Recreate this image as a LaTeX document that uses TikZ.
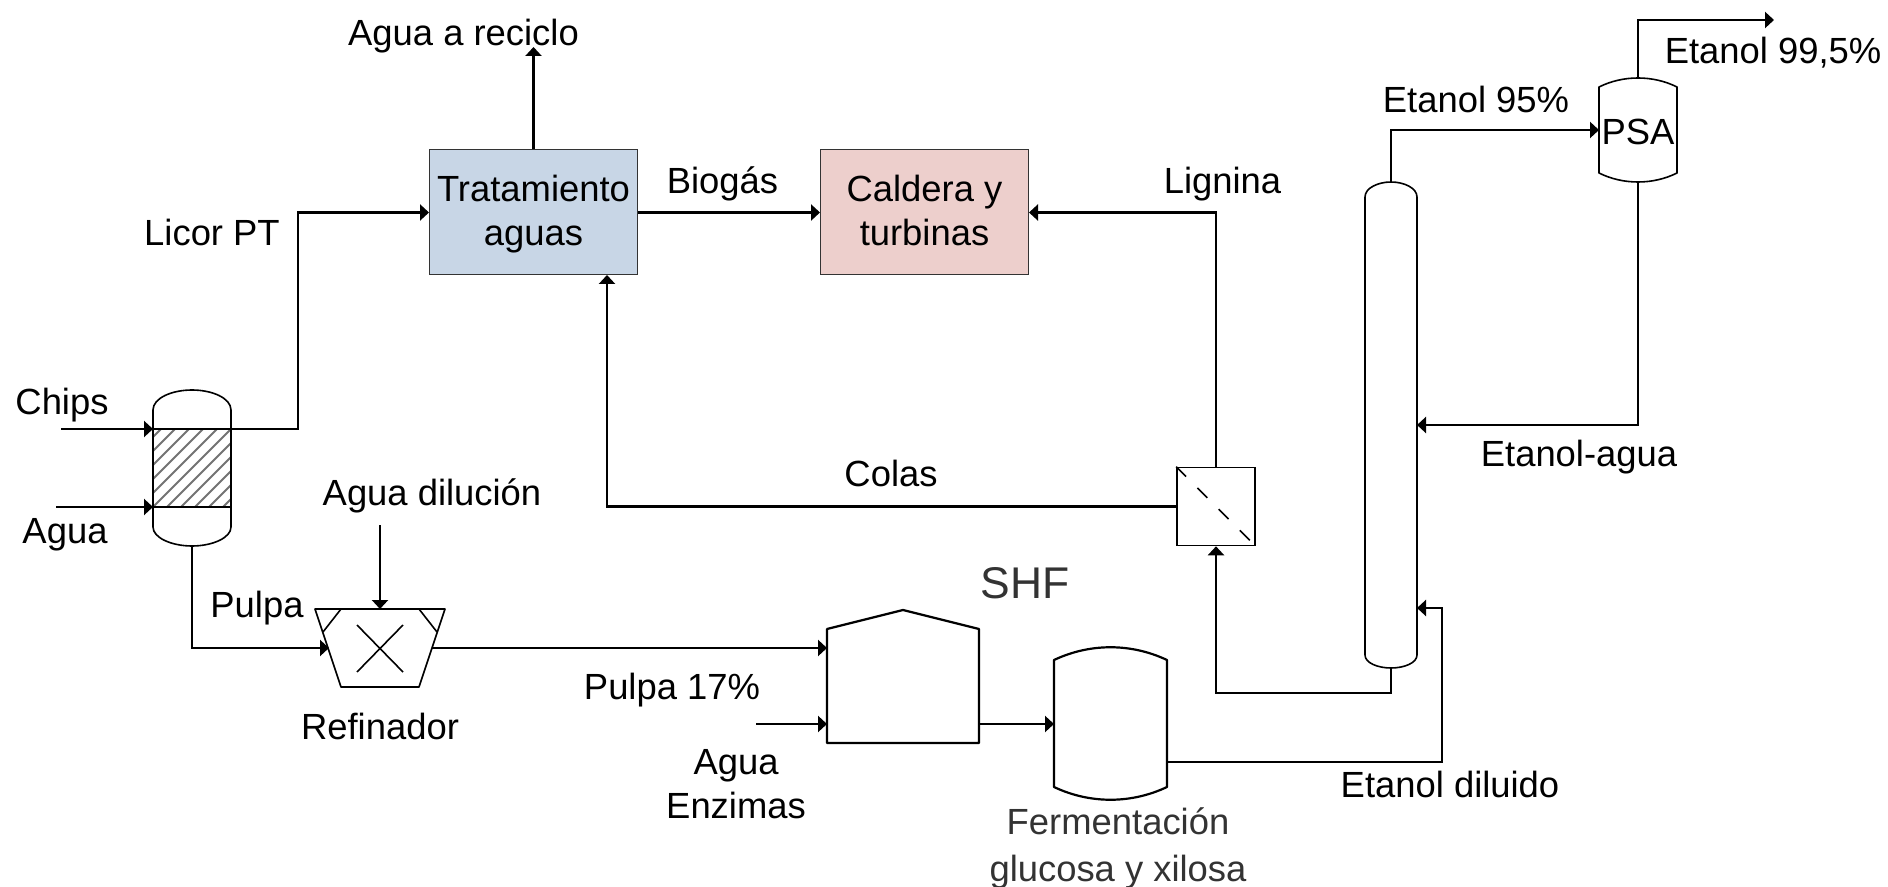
\documentclass[tikz,border=0pt]{standalone}
\usepackage{fontspec}
\setmainfont{Liberation Sans}
\usetikzlibrary{arrows.meta}
\definecolor{bluebox}{HTML}{C8D6E6}
\definecolor{pinkbox}{HTML}{EDCFCC}
\definecolor{txtgray}{HTML}{333333}
\tikzset{
  x=0.5pt,y=-0.5pt,
  flow/.style={line width=1.25pt,line join=miter,-{Triangle[length=4.5pt,width=8pt]}},
  equip/.style={line width=0.8pt,line join=round},
  heavy/.style={line width=1.1pt,line join=round},
  procbox/.style={draw=black!80,line width=0.5pt,minimum width=104pt,minimum height=62.5pt,inner sep=0pt},
  lab/.style={anchor=base,inner sep=0pt,font=\fontsize{18.2}{21.6}\selectfont},
  labgray/.style={lab,text=txtgray},
}
\begin{document}
\begin{tikzpicture}
\useasboundingbox (0,0) rectangle (1888,887);
% process boxes
\node[procbox,fill=bluebox] (trat) at (533.5,212.5) {};
\node[procbox,fill=pinkbox] (cald) at (924.5,212.5) {};
\node[lab] (t1) at (533.5,202) {Tratamiento};
\node[lab] (t2) at (533.5,245.5) {aguas};
\node[lab] (t3) at (924.5,202) {Caldera y};
\node[lab] (t4) at (924.5,245.5) {turbinas};
% reactor
\begin{scope}
\clip (153,429) rectangle (231,507);
\foreach \i in {-6,...,12}{
  \draw[black!55,line width=0.9pt] (153+\i*14,507) -- ++(78,-78);
}
\end{scope}
\draw[equip] (153,429) -- (153,410) .. controls (153,398) and (172,390) .. (192,390) .. controls (212,390) and (231,398) .. (231,410) -- (231,527) .. controls (231,538) and (212,546) .. (192,546) .. controls (172,546) and (153,538) .. (153,527) -- cycle;
\draw[equip] (153,429) -- (231,429) (153,507) -- (231,507);
\coordinate (reacA) at (153,429);
\coordinate (reacB) at (153,507);
\coordinate (reacOut) at (231,429);
\coordinate (reacBot) at (192,546);
\coordinate (chipsS) at (61,429);
\coordinate (aguaS) at (56,507);
% refiner
\draw[equip] (315,609) -- (445,609) -- (419,687) -- (341,687) -- cycle;
\draw[equip] (341,609) -- (323,632) (419,609) -- (437,632);
\draw[equip] (357,625) -- (403,672) (403,625) -- (357,672);
\coordinate (refL) at (329,648);
\coordinate (refR) at (432,648);
\coordinate (refT) at (380,609);
\coordinate (dilS) at (380,525);
% hydrolysis vessel
\draw[heavy] (827,629) -- (903,610) -- (979,629) -- (979,743) -- (827,743) -- cycle;
\coordinate (houseA) at (827,648);
\coordinate (houseB) at (827,724);
\coordinate (houseOut) at (979,724);
\coordinate (enzS) at (756,724);
% fermenter
\draw[heavy] (1054,660) .. controls (1090,643) and (1131,643) .. (1167,660) -- (1167,787) .. controls (1131,804) and (1090,804) .. (1054,787) -- cycle;
\coordinate (fermIn) at (1054,724);
\coordinate (fermOut) at (1167,762);
% separator
\node[draw,line width=0.8pt,minimum width=39pt,minimum height=39pt,inner sep=0pt] (sep) at (1216,506.5) {};
\draw[line width=0.75pt,dash pattern=on 7pt off 8pt] (sep.north west) -- (sep.south east);
% column
\draw[equip] (1365,197) .. controls (1365,188) and (1378,182) .. (1391,182) .. controls (1404,182) and (1417,188) .. (1417,197) -- (1417,655) .. controls (1417,663) and (1404,668) .. (1391,668) .. controls (1378,668) and (1365,663) .. (1365,655) -- cycle;
\coordinate (colT) at (1391,182);
\coordinate (colB) at (1391,668);
\coordinate (colA) at (1417,425);
\coordinate (colC) at (1417,608);
% PSA
\draw[equip] (1599,87) .. controls (1623,75) and (1653,75) .. (1677,87) -- (1677,173) .. controls (1653,185) and (1623,185) .. (1599,173) -- cycle;
\coordinate (psaT) at (1638,78);
\coordinate (psaB) at (1638,182);
\coordinate (psaL) at (1599,130);
\coordinate (prodE) at (1774,20);
\coordinate (recE) at (533.5,47);
% connectors
\draw[flow] (chipsS) -- (reacA);
\draw[flow] (aguaS) -- (reacB);
\draw[flow] (reacOut) -| (298,212.5) -- (trat.west);
\draw[flow] (trat.north) -- (recE);
\draw[flow] (trat.east) -- (cald.west);
\draw[flow] (sep.north) |- (cald.east);
\draw[flow] (sep.west) -| (607,275);
\draw[flow] (reacBot) |- (refL);
\draw[flow] (dilS) -- (refT);
\draw[flow] (refR) -- (houseA);
\draw[flow] (enzS) -- (houseB);
\draw[flow] (houseOut) -- (fermIn);
\draw[flow] (fermOut) -| (1442,608) -- (colC);
\draw[flow] (colB) |- (1216,693) -- (sep.south);
\draw[flow] (colT) |- (psaL);
\draw[flow] (psaT) |- (prodE);
\draw[flow] (psaB) |- (colA);
% labels
\node[lab] (l1) at (463.5,46) {Agua a reciclo};
\node[lab] (l2) at (212,246) {Licor PT};
\node[lab] (l3) at (722.5,194) {Biogás};
\node[lab] (l4) at (1222.5,194) {Lignina};
\node[lab] (l5) at (1476,113) {Etanol 95\%};
\node[lab] (l6) at (1773,64) {Etanol 99,5\%};
\node[lab] (l7) at (1638,145) {PSA};
\node[lab] (l8) at (1579,466) {Etanol-agua};
\node[lab] (l9) at (891,486) {Colas};
\node[lab] (l10) at (62,414) {Chips};
\node[lab] (l11) at (65,543) {Agua};
\node[lab] (l12) at (432,505) {Agua dilución};
\node[lab] (l13) at (257,617) {Pulpa};
\node[lab] (l14) at (380,739) {Refinador};
\node[labgray,font=\fontsize{22.2}{26}\selectfont] (l15) at (1025,598) {SHF};
\node[lab] (l16) at (672,699) {Pulpa 17\%};
\node[lab] (l17) at (736,774) {Agua};
\node[lab] (l18) at (736,818) {Enzimas};
\node[lab] (l19) at (1450,797) {Etanol diluido};
\node[labgray] (l20) at (1118,834) {Fermentación};
\node[labgray] (l21) at (1118,881) {glucosa y xilosa};
\end{tikzpicture}
\end{document}
